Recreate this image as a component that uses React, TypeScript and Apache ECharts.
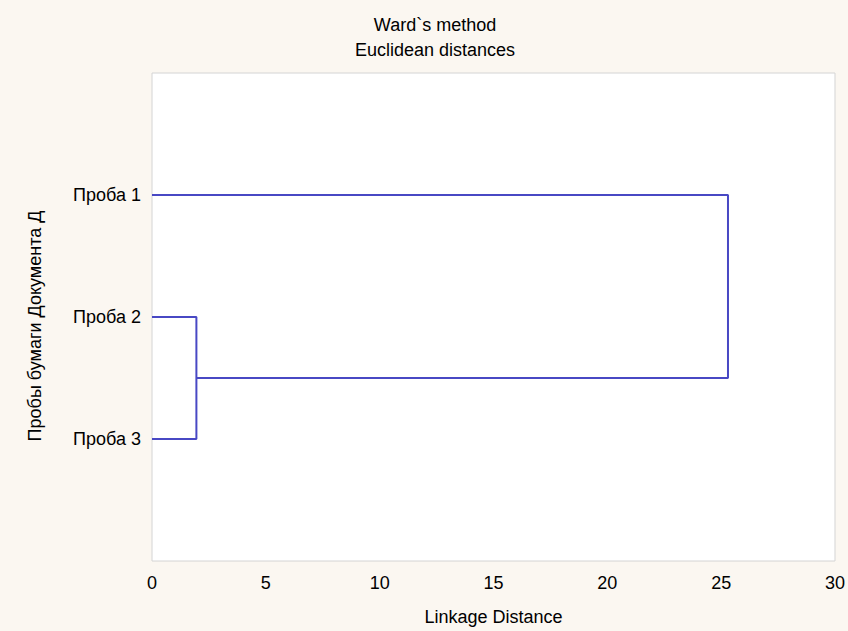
import React, { useEffect, useRef } from "react";
import * as echarts from "echarts";

const sampleNames = ["Проба 3", "Проба 2", "Проба 1"]; // y positions 1,2,3 (bottom to top)
const mergeDistances = [1.95, 25.3];
const xTicks = [0, 5, 10, 15, 20, 25, 30];
const titleLines = ["Ward`s method", "Euclidean distances"];
const xName = "Linkage Distance";
const yName = "Пробы бумаги Документа Д";

const LINE = "#4848c4";
const FONT = "'Liberation Sans', Arial, sans-serif";
const TXT = "#000";

export default function App() {
  const ref = useRef<HTMLDivElement>(null);
  useEffect(() => {
    if (!ref.current) return;
    const chart = echarts.init(ref.current, null, { renderer: "svg" });
    const yPos = (name: string) => sampleNames.indexOf(name) + 1;
    const d1 = mergeDistances[0];
    const d2 = mergeDistances[1];
    const mid23 = (yPos("Проба 2") + yPos("Проба 3")) / 2;
    const clusterA = [
      [0, yPos("Проба 2")],
      [d1, yPos("Проба 2")],
      [d1, yPos("Проба 3")],
      [0, yPos("Проба 3")],
    ];
    const clusterB = [
      [0, yPos("Проба 1")],
      [d2, yPos("Проба 1")],
      [d2, mid23],
      [d1, mid23],
    ];
    chart.setOption({
      animation: false,
      backgroundColor: "#fbf7f1",
      textStyle: { fontFamily: FONT },
      graphic: titleLines.map((t, i) => ({
        type: "text",
        x: 435,
        y: 25 + i * 25,
        style: {
          text: t,
          fill: TXT,
          font: `18px ${FONT}`,
          textAlign: "center",
          textVerticalAlign: "middle",
        },
      })),
      grid: {
        left: 152,
        right: 10,
        top: 73,
        bottom: 68,
        show: true,
        backgroundColor: "#ffffff",
        borderColor: "#d4d4d4",
        borderWidth: 1,
      },
      xAxis: {
        type: "value",
        min: xTicks[0],
        max: xTicks[xTicks.length - 1],
        interval: 5,
        name: xName,
        nameLocation: "middle",
        nameGap: 47,
        nameTextStyle: { fontSize: 18, color: TXT, fontFamily: FONT },
        axisLine: { show: false },
        axisTick: { show: false },
        splitLine: { show: false },
        axisLabel: { fontSize: 18, color: TXT, margin: 13, fontFamily: FONT },
      },
      yAxis: {
        type: "value",
        min: 0,
        max: sampleNames.length + 1,
        interval: 1,
        name: yName,
        nameLocation: "middle",
        nameGap: 108,
        nameRotate: 90,
        nameTextStyle: { fontSize: 18, color: TXT, fontFamily: FONT, padding: [0, 18, 0, 0] },
        axisLine: { show: false },
        axisTick: { show: false },
        splitLine: { show: false },
        axisLabel: {
          fontSize: 18,
          color: TXT,
          margin: 11,
          fontFamily: FONT,
          formatter: (v: number) => sampleNames[v - 1] ?? "",
        },
      },
      series: [clusterA, clusterB].map((data) => ({
        type: "line",
        data,
        showSymbol: false,
        symbol: "none",
        lineStyle: { color: LINE, width: 2 },
        silent: true,
      })),
    });
    return () => chart.dispose();
  }, []);
  return (
    <div
      ref={ref}
      style={{ position: "absolute", left: 0, top: 0, width: 848, height: 631 }}
    />
  );
}
